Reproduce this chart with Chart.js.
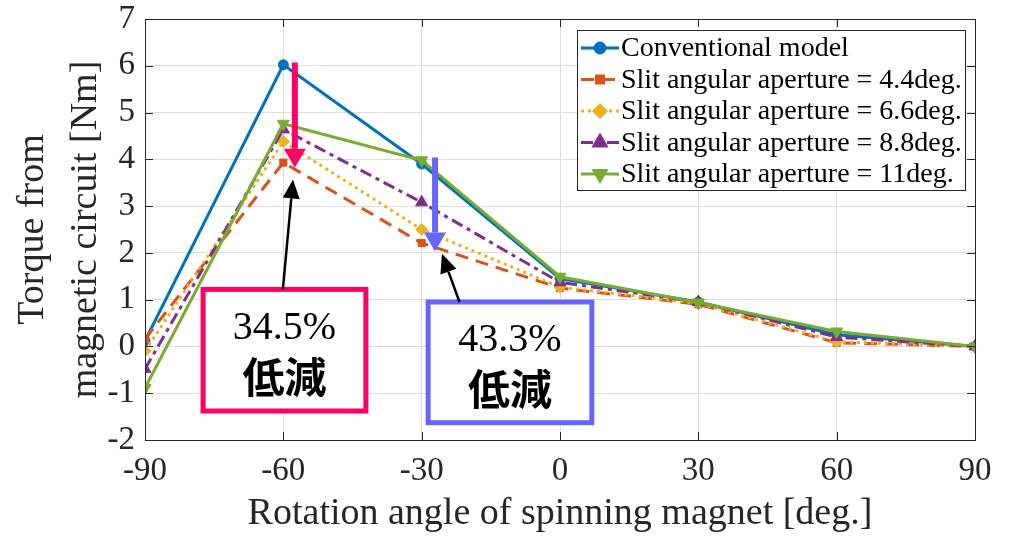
<!DOCTYPE html>
<html>
<head>
<meta charset="utf-8">
<script src="https://cdn.jsdelivr.net/npm/chart.js@4/dist/chart.umd.min.js"></script>
<style>
    html, body { margin: 0; padding: 0; background: #fff; }
    #wrap { width: 1011px; height: 537px; }
</style>
</head>
<body>
<div id="wrap"><canvas id="torqueChart"></canvas></div>
<script>
// rotation angle [deg.]
const angles = [-90, -60, -30, 0, 30, 60, 90];

// torque [Nm]
const conventional = [0.12, 6.02, 3.90, 1.45, 0.95, 0.25, 0.00];
const slit44 = [0.16, 3.93, 2.21, 1.25, 0.90, 0.08, 0.00];
const slit66 = [-0.10, 4.38, 2.50, 1.27, 0.92, 0.10, 0.00];
const slit88 = [-0.48, 4.64, 3.08, 1.37, 0.95, 0.20, 0.00];
const slit11 = [-0.89, 4.76, 3.98, 1.49, 0.94, 0.32, 0.00];

const seriesLabels = [
    'Conventional model',
    'Slit angular aperture = 4.4deg.',
    'Slit angular aperture = 6.6deg.',
    'Slit angular aperture = 8.8deg.',
    'Slit angular aperture = 11deg.'
];

const yTicks = [-2, -1, 0, 1, 2, 3, 4, 5, 6, 7];
const xTicks = [-90, -60, -30, 0, 30, 60, 90];

// reduction callouts: arrow from / to, pointer tail / tip, box corners, text
const reductions = [
    { color: '#FF0066', x: -57.5, from: 6.07, to: 3.82, tip: [-57.9, 3.57], tail: [-60.1, 1.22],
      box: [-77.4, 1.22, -42.1, -1.38], pct: '34.5%' },
    { color: '#6666FF', x: -27.1, from: 4.04, to: 2.03, tip: [-25.6, 1.98], tail: [-21.8, 0.95],
      box: [-28.6, 0.95, 6.9, -1.63], pct: '43.3%' }
];

const SERIF = '"Liberation Serif", "Times New Roman", serif';
const GOTHIC = '"Noto Sans CJK JP", "Noto Sans", sans-serif';

function toPoints(values) {
    return angles.map((a, i) => ({ x: a, y: values[i] }));
}

const styles = [
    { color: '#0072BD', point: 'circle', radius: 5, dash: [], rotation: 0 },
    { color: '#D95319', point: 'rect', radius: 5, dash: [13, 8], rotation: 0 },
    { color: '#EDB120', point: 'rectRot', radius: 6, dash: [3, 4], rotation: 0 },
    { color: '#7E2F8E', point: 'triangle', radius: 7, dash: [12, 5, 4, 5], rotation: 0 },
    { color: '#77AC30', point: 'triangle', radius: 7, dash: [], rotation: 180 }
];

const allSeries = [conventional, slit44, slit66, slit88, slit11];

const datasets = allSeries.map((vals, i) => ({
    label: seriesLabels[i],
    data: toPoints(vals),
    borderColor: styles[i].color,
    backgroundColor: styles[i].color,
    borderWidth: 3,
    borderDash: styles[i].dash,
    pointStyle: styles[i].point,
    pointRadius: styles[i].radius,
    pointRotation: styles[i].rotation,
    pointBorderWidth: 1,
    tension: 0,
    // later series sit on top
    order: allSeries.length - i
}));

function arrow(ctx, x1, y1, x2, y2, width, headW, headL, color) {
    const ang = Math.atan2(y2 - y1, x2 - x1);
    const bx = x2 - headL * Math.cos(ang);
    const by = y2 - headL * Math.sin(ang);
    ctx.save();
    ctx.strokeStyle = color;
    ctx.fillStyle = color;
    ctx.lineWidth = width;
    ctx.setLineDash([]);
    ctx.beginPath();
    ctx.moveTo(x1, y1);
    ctx.lineTo(bx, by);
    ctx.stroke();
    ctx.beginPath();
    ctx.moveTo(x2, y2);
    ctx.lineTo(bx + headW / 2 * Math.sin(ang), by - headW / 2 * Math.cos(ang));
    ctx.lineTo(bx - headW / 2 * Math.sin(ang), by + headW / 2 * Math.cos(ang));
    ctx.closePath();
    ctx.fill();
    ctx.restore();
}

// boxes, arrows and labels for the torque reductions
const calloutPlugin = {
    id: 'callouts',
    afterDatasetsDraw(chart) {
        const { ctx, scales: { x, y } } = chart;
        reductions.forEach(r => {
            arrow(ctx, x.getPixelForValue(r.x), y.getPixelForValue(r.from),
                x.getPixelForValue(r.x), y.getPixelForValue(r.to), 6, 22, 19, r.color);

            const [bx1, by1, bx2, by2] = r.box;
            const left = x.getPixelForValue(bx1);
            const top = y.getPixelForValue(by1);
            const w = x.getPixelForValue(bx2) - left;
            const h = y.getPixelForValue(by2) - top;
            ctx.save();
            ctx.fillStyle = '#fff';
            ctx.fillRect(left, top, w, h);
            ctx.strokeStyle = r.color;
            ctx.lineWidth = 5;
            ctx.strokeRect(left, top, w, h);
            ctx.fillStyle = '#000';
            ctx.textAlign = 'center';
            ctx.textBaseline = 'middle';
            ctx.font = '40px ' + SERIF;
            ctx.fillText(r.pct, left + w / 2, top + h * 0.32);
            ctx.font = 'bold 42px ' + GOTHIC;
            ctx.fillText('低減', left + w / 2, top + h * 0.72);
            ctx.restore();

            arrow(ctx, x.getPixelForValue(r.tail[0]), y.getPixelForValue(r.tail[1]),
                x.getPixelForValue(r.tip[0]), y.getPixelForValue(r.tip[1]), 2.5, 17, 19, '#000');
        });
    }
};

// legend box in the upper right of the plot area
const legendPlugin = {
    id: 'boxLegend',
    afterDraw(chart) {
        const { ctx, chartArea } = chart;
        const right = chartArea.right - 10;
        const top = chartArea.top + 11;
        const w = 388, h = 160, rowH = 31.5;
        const left = right - w;
        ctx.save();
        ctx.fillStyle = '#fff';
        ctx.fillRect(left, top, w, h);
        ctx.strokeStyle = '#262626';
        ctx.lineWidth = 1;
        ctx.strokeRect(left + 0.5, top + 0.5, w, h);
        chart.data.datasets.forEach((ds, i) => {
            const cy = top + 18 + i * rowH;
            const st = styles[i];
            ctx.strokeStyle = st.color;
            ctx.lineWidth = 3;
            ctx.setLineDash(st.dash);
            ctx.beginPath();
            ctx.moveTo(left + 4, cy);
            ctx.lineTo(left + 42, cy);
            ctx.stroke();
            ctx.setLineDash([]);
            ctx.fillStyle = st.color;
            ctx.strokeStyle = st.color;
            Chart.helpers.drawPoint(ctx, {
                pointStyle: st.point, radius: st.radius, rotation: st.rotation, borderWidth: 1
            }, left + 23, cy);
            ctx.fillStyle = '#000';
            ctx.font = '28px ' + SERIF;
            ctx.textAlign = 'left';
            ctx.textBaseline = 'middle';
            ctx.fillText(ds.label, left + 44, cy + 1);
        });
        ctx.restore();
    }
};

// inward tick marks and a full frame around the plot
const framePlugin = {
    id: 'frame',
    afterDatasetsDraw(chart) {
        const { ctx, chartArea: a, scales: { x, y } } = chart;
        ctx.save();
        ctx.strokeStyle = '#262626';
        ctx.lineWidth = 1;
        ctx.beginPath();
        xTicks.forEach(v => {
            const px = Math.round(x.getPixelForValue(v)) + 0.5;
            ctx.moveTo(px, a.bottom); ctx.lineTo(px, a.bottom - 8);
            ctx.moveTo(px, a.top); ctx.lineTo(px, a.top + 8);
        });
        yTicks.forEach(v => {
            const py = Math.round(y.getPixelForValue(v)) + 0.5;
            ctx.moveTo(a.left, py); ctx.lineTo(a.left + 8, py);
            ctx.moveTo(a.right, py); ctx.lineTo(a.right - 8, py);
        });
        ctx.stroke();
        ctx.strokeRect(Math.round(a.left) + 0.5, Math.round(a.top) + 0.5,
            Math.round(a.right - a.left), Math.round(a.bottom - a.top));
        ctx.restore();
    }
};

new Chart(document.getElementById('torqueChart'), {
    type: 'line',
    data: { datasets },
    options: {
        responsive: true,
        maintainAspectRatio: false,
        animation: false,
        layout: { padding: { top: 19, right: 36, left: 0, bottom: 0 } },
        plugins: {
            legend: { display: false },
            tooltip: { enabled: false }
        },
        scales: {
            x: {
                type: 'linear',
                min: -90,
                max: 90,
                afterBuildTicks: axis => { axis.ticks = xTicks.map(v => ({ value: v })); },
                afterFit: axis => {
                    axis.height = 97;
                    axis.paddingLeft = 0;
                    axis.paddingRight = 0;
                },
                grid: { color: '#dedede', drawTicks: false },
                border: { display: false },
                ticks: {
                    color: '#262626',
                    padding: 12,
                    maxRotation: 0,
                    font: { family: SERIF, size: 33 }
                },
                title: {
                    display: true,
                    text: 'Rotation angle of spinning magnet [deg.]',
                    color: '#262626',
                    padding: { top: 0, bottom: 0 },
                    font: { family: SERIF, size: 38 }
                }
            },
            y: {
                min: -2,
                max: 7,
                afterBuildTicks: axis => { axis.ticks = yTicks.map(v => ({ value: v })); },
                afterFit: axis => {
                    axis.width = 145;
                    axis.paddingTop = 0;
                    axis.paddingBottom = 0;
                },
                grid: { color: '#dedede', drawTicks: false },
                border: { display: false },
                ticks: {
                    color: '#262626',
                    padding: 10,
                    font: { family: SERIF, size: 33 }
                },
                title: {
                    display: true,
                    text: ['Torque from', 'magnetic circuit [Nm]'],
                    color: '#262626',
                    padding: { top: 7, bottom: 0 },
                    font: { family: SERIF, size: 38, lineHeight: 1.38 }
                }
            }
        }
    },
    plugins: [framePlugin, calloutPlugin, legendPlugin]
});
</script>
</body>
</html>
